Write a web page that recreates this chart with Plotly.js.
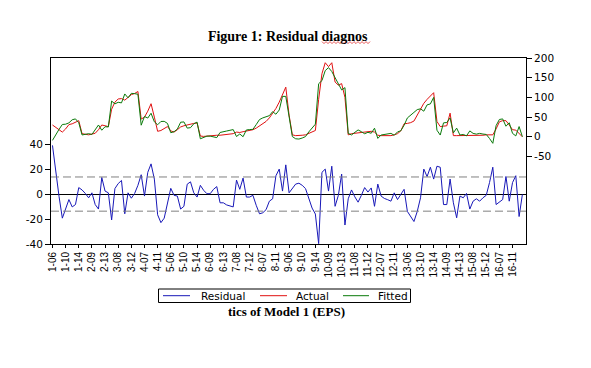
<!DOCTYPE html>
<html><head><meta charset="utf-8">
<script src="https://cdn.plot.ly/plotly-3.0.1.min.js"></script>
<style>html,body{margin:0;padding:0;background:#fff;} #chart{width:591px;height:368px;}</style>
</head><body><div id="chart"></div>
<script>
// ---- data ----
const groupIds = [1,2,3,4,5,6,7,8,9,10,11,12,13,14,15,16];
const periodIds = ['06','07','08','09','10','11','12','13','14'];
const tickLabels = ['1-06','1-10','1-14','2-09','2-13','3-08','3-12','4-07','4-11','5-06','5-10','5-14',
  '6-09','6-13','7-08','7-12','8-07','8-11','9-06','9-10','9-14','10-09','10-13','11-08','11-12',
  '12-07','12-11','13-06','13-10','13-14','14-09','14-13','15-08','15-12','16-07','16-11'];
const seriesNames = ['Residual', 'Actual', 'Fitted'];
const residual = [39,17,-2,-19.3,-12,-4.4,-10.3,-8.4,5.2,3.3,
  0.5,-3,1,-8.4,-12,13.3,2.4,1,-20.7,4.4,
  8.4,10.9,-15.8,1,-3.3,0.5,7,15.5,-1.6,17.4,
  24.2,12,-16.6,-22.9,-19.3,-8,4.6,-1,-1.6,-12,
  -9.8,7.9,9.8,1,-2.4,7,3,0.3,0.3,3.8,
  6,-7,-7,-8.7,-9.5,-10.3,11.2,3.8,12.8,-2.4,
  -2.4,-1,-9,-15.8,-15,-12.5,-5.7,-3.8,14.7,20,
  2.4,23.4,1,4.4,8,8.7,7,4.4,-4.4,-11.2,
  -16,-39.7,17.4,20,2.4,22.3,-9.8,-1,16,-24.8,
  -3.8,3.3,-2.2,-6.5,-1,5.2,1.6,4.9,-9.8,8,
  -1.6,-3.5,-4.5,-5.7,1,-4.4,-0.3,3.8,-13.9,-18,
  -22,-14,-3,20,14,21.5,12,22.3,21.5,-8.4,
  -8.4,12,-7,-19,-1.6,-3,0.5,-12,-5.7,-3.8,
  -5.7,-3,-1,9.2,21.5,-8.4,-6,-4.4,14.1,-5.7,
  9.2,14.7,-18,-0.3];
const actual = [30,24,17,12,20,31,33,37,41,8,
  6,5,7,9,18,30,28,26,70,88,
  96,97,93,100,107,110,115,45,50,65,
  84,50,14,16,20,26,15,12,18,25,
  28,30,33,34,35,2,1,2,2,3,
  4,4,5,6,7,8,12,11,13,15,
  16,18,22,28,33,39,48,60,72,88,
  105,126,55,5,3,3,4,5,8,12,
  16,95,160,188,178,188,139,131,135,100,
  5,8,9,11,12,13,13,14,12,4,
  3,3,3,3,5,8,15,33,34,36,
  40,55,68,85,95,105,112,39,26,27,
  28,60,3,3,3,3,3,3,3,3,
  3,4,5,5,5,20,38,41,41,30,
  18,17,8,0];
const fitted = [-9,7,19,31.3,32,35.4,43.3,45.4,35.8,4.7,
  5.5,8,6,17.4,30,16.7,25.6,25,90.7,83.6,
  87.6,86.1,108.8,99,110.3,109.5,108,29.5,51.6,47.6,
  59.8,38,30.6,38.9,39.3,34,10.4,13,19.6,37,
  37.8,22.1,23.2,33,37.4,-5,-2,1.7,1.7,-0.8,
  -2,11,12,14.7,16.5,18.3,0.8,7.2,0.2,17.4,
  18.4,19,31,43.8,48,51.5,53.7,63.8,57.3,68,
  102.6,102.6,54,0.6,-5,-5.7,-3,0.6,12.4,23.2,
  32,134.7,142.6,168,175.6,165.7,148.8,132,119,124.8,
  8.8,4.7,11.2,17.5,13,7.8,11.4,9.1,21.8,-4,
  4.6,6.5,7.5,8.7,4,12.4,15.3,29.2,47.9,54,
  62,69,71,65,81,83.5,100,16.7,4.5,35.4,
  36.4,48,10,22,4.6,6,2.5,15,8.7,6.8,
  8.7,7,6,-4.2,-16.5,28.4,44,45.4,26.9,35.7,
  8.8,2.3,26,0.3];
const residualSE = 13.7;
const leftTicks = [-40,-20,0,20,40];
const rightTicks = [-50,0,50,100,150,200];

// ---- build ----
const obsLabels = [];
groupIds.forEach(g => periodIds.forEach(p => obsLabels.push(g + '-' + p)));

const W = 591, H = 368, L = 51, R = 65, T = 58, B = 124;
const pw = W - L - R, ph = H - T - B;
const px2x = v => (v - L) / pw;
const py2y = v => (H - B - v) / ph;
const colors = ['#1818b8', '#e01010', '#0a7a0a'];

// spell-check squiggle under "diagnos"
let sq = '';
for (let k = 0; k <= 24; k++) {
  const xx = 322 + k * 2, yy = (k % 2 === 0) ? 41.6 : 43.6;
  sq += (k === 0 ? 'M ' : ' L ') + px2x(xx).toFixed(5) + ' ' + py2y(yy).toFixed(5);
}

const axFont = {family: 'DejaVu Sans', size: 10.5, color: '#000'};
const traces = [
  {x: obsLabels, y: residual, name: seriesNames[0], type: 'scatter', mode: 'lines',
   line: {color: colors[0], width: 1}, yaxis: 'y'},
  {x: obsLabels, y: actual, name: seriesNames[1], type: 'scatter', mode: 'lines',
   line: {color: colors[1], width: 1}, yaxis: 'y2'},
  {x: obsLabels, y: fitted, name: seriesNames[2], type: 'scatter', mode: 'lines',
   line: {color: colors[2], width: 1}, yaxis: 'y2'}
];

// legend box drawn as shapes + text (compact, EViews style)
const legY = 295.7;
const legItems = [{l0: 163, l1: 190, t: 200}, {l0: 260, l1: 287, t: 295}, {l0: 343, l1: 369, t: 377}];
const shapes = [
  {type: 'line', xref: 'paper', x0: 0, x1: 1, yref: 'y', y0: residualSE, y1: residualSE,
   line: {color: '#808080', width: 1, dash: '8px,4px'}},
  {type: 'line', xref: 'paper', x0: 0, x1: 1, yref: 'y', y0: -residualSE, y1: -residualSE,
   line: {color: '#808080', width: 1, dash: '8px,4px'}},
  {type: 'path', xref: 'paper', yref: 'paper', path: sq, line: {color: '#e03030', width: 0.8}},
  {type: 'rect', xref: 'paper', yref: 'paper', x0: px2x(158.5), x1: px2x(410.5),
   y0: py2y(289), y1: py2y(302.5), line: {color: '#000', width: 1}, fillcolor: 'rgba(0,0,0,0)'}
];
const annotations = [
  {text: 'tics of Model 1 (EPS)', xref: 'paper', yref: 'paper', x: px2x(286), y: py2y(311),
   xanchor: 'center', yanchor: 'middle', showarrow: false,
   font: {family: 'Liberation Serif', size: 13, color: '#000', weight: 'bold'}}
];
legItems.forEach((it, k) => {
  shapes.push({type: 'line', xref: 'paper', yref: 'paper', x0: px2x(it.l0), x1: px2x(it.l1),
    y0: py2y(legY), y1: py2y(legY), line: {color: colors[k], width: 1}});
  annotations.push({text: seriesNames[k], xref: 'paper', yref: 'paper', x: px2x(it.t), y: py2y(legY),
    xanchor: 'left', yanchor: 'middle', showarrow: false, borderpad: 0,
    font: {family: 'DejaVu Sans', size: 10.5, color: '#000'}});
});

const layout = {
  width: W, height: H,
  margin: {l: L, r: R, t: T, b: B, pad: 0},
  paper_bgcolor: '#fff', plot_bgcolor: 'rgba(0,0,0,0)',
  showlegend: false,
  title: {text: 'Figure 1: Residual diagnos', x: 287.7 / W, xref: 'container', xanchor: 'center',
          y: 1 - 36.5 / H, yref: 'container', yanchor: 'middle',
          font: {family: 'Liberation Serif', size: 14, color: '#000', weight: 'bold'}},
  xaxis: {type: 'category', range: [-0.45, 144.1], showline: true, linecolor: '#000', linewidth: 1,
          mirror: true, ticks: 'outside', ticklen: 3, tickcolor: '#000',
          tickvals: tickLabels, ticktext: tickLabels, tickangle: -90,
          tickfont: {family: 'Liberation Sans', size: 10, color: '#000'},
          showgrid: false, zeroline: false, automargin: false, fixedrange: true},
  yaxis: {range: [-40, 109], tickvals: leftTicks, ticktext: leftTicks.map(String),
          showline: true, mirror: true, linecolor: '#000',
          ticks: 'outside', ticklen: 5, tickcolor: '#000', tickfont: axFont,
          zeroline: true, zerolinecolor: '#000', zerolinewidth: 1, showgrid: false,
          automargin: false, fixedrange: true},
  yaxis2: {overlaying: 'y', side: 'right', range: [-272, 200], tickvals: rightTicks,
           ticktext: rightTicks.map(String),
           ticks: 'outside', ticklen: 5, tickcolor: '#000', tickfont: axFont,
           showline: false, zeroline: false, showgrid: false, automargin: false, fixedrange: true},
  shapes: shapes,
  annotations: annotations
};
Plotly.newPlot('chart', traces, layout, {displayModeBar: false, staticPlot: true});
</script>
</body></html>
